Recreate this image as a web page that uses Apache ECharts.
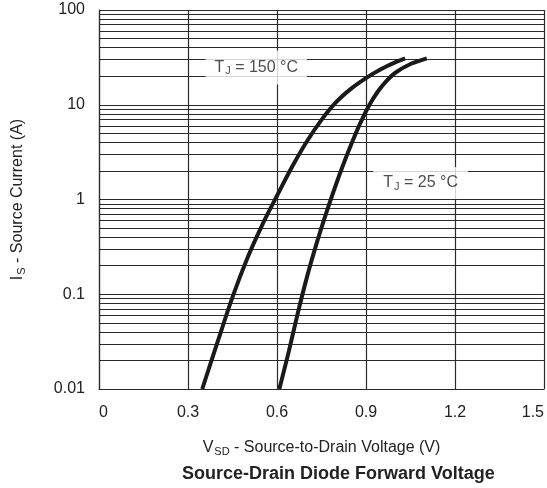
<!DOCTYPE html>
<html>
<head>
<meta charset="utf-8">
<script src="https://cdn.jsdelivr.net/npm/echarts@6/dist/echarts.min.js"></script>
<style>html,body{margin:0;padding:0;background:#fff}#c{width:547px;height:488px}</style>
</head>
<body>
<div id="c"></div>
<script>
// Source-to-drain voltage (V) and source current (A)
const vsd150 = [0.348, 0.40, 0.45, 0.50, 0.55, 0.60, 0.65, 0.70, 0.75, 0.80, 0.85, 0.90, 0.95, 1.00, 1.032];
const is150  = [0.01, 0.0316, 0.0933, 0.240, 0.537, 1.096, 2.19, 4.07, 6.92, 10.7, 14.8, 19.1, 23.7, 28.2, 30.9];
const vsd25  = [0.608, 0.64, 0.67, 0.70, 0.73, 0.76, 0.79, 0.82, 0.85, 0.88, 0.91, 0.94, 0.97, 1.00, 1.05, 1.105];
const is25   = [0.01, 0.0251, 0.063, 0.148, 0.316, 0.631, 1.20, 2.19, 3.80, 6.31, 9.77, 13.8, 18.0, 21.9, 26.9, 30.9];
const xTicks = [0, 0.3, 0.6, 0.9, 1.2, 1.5];
const yTicks = [0.01, 0.1, 1, 10, 100];
const yMinorGrid = [0.02,0.03,0.04,0.05,0.06,0.07,0.08,0.09,
                    0.2,0.3,0.4,0.5,0.6,0.7,0.8,0.9,
                    2,3,4,5,6,7,8,9,
                    20,30,40,50,60,70,80,90];
const label150 = {text: 'T{s|J} = 150 °C', v: 0.530, i: 24.7};
const label25  = {text: 'T{s|J} = 25 °C',  v: 1.084, i: 1.49};

const FONT = '"Liberation Sans", Arial, Helvetica, sans-serif';
const INK = '#222';
const GRID = '#2a2a2a';

const chart = echarts.init(document.getElementById('c'), null, {renderer: 'canvas'});
const pairs = (xs, ys) => xs.map((x, k) => [x, ys[k]]);
const richSub = {s: {fontSize: 11, fontFamily: FONT, color: INK, padding: [7, 0, 0, 1]}};
const boxLabel = (txt, pad) => ({
  show: true, position: 'inside', formatter: txt, padding: pad,
  backgroundColor: '#fff', fontFamily: FONT, fontSize: 16, color: INK, rich: richSub
});

chart.setOption({
  animation: false,
  backgroundColor: '#fff',
  title: {
    text: 'Source-Drain Diode Forward Voltage',
    left: 177, top: 460,
    textStyle: {fontFamily: FONT, fontSize: 18, fontWeight: 'bold', color: INK}
  },
  grid: {left: 99, right: 1, top: 10, bottom: 99, containLabel: false},
  xAxis: {
    type: 'value', min: xTicks[0], max: xTicks[xTicks.length - 1], interval: 0.3,
    name: 'V{s|SD} - Source-to-Drain Voltage (V)',
    nameLocation: 'middle', nameGap: 50,
    nameTextStyle: {fontFamily: FONT, fontSize: 16, color: INK, rich: richSub},
    axisLine: {show: true, lineStyle: {color: GRID, width: 1.2}},
    axisTick: {show: false},
    axisLabel: {
      fontFamily: FONT, fontSize: 16, color: INK, margin: 16,
      alignMinLabel: 'left', alignMaxLabel: 'right',
      formatter: v => String(Math.round(v * 10) / 10)
    },
    splitLine: {show: true, lineStyle: {color: GRID, width: 1.2}}
  },
  yAxis: {
    type: 'log', logBase: 10, min: yTicks[0], max: yTicks[yTicks.length - 1],
    name: 'I{s|S} - Source Current (A)',
    nameLocation: 'middle', nameGap: 72, nameRotate: 90,
    nameTextStyle: {fontFamily: FONT, fontSize: 16, color: INK, rich: richSub},
    axisLine: {show: true, lineStyle: {color: GRID, width: 1.2}},
    axisTick: {show: false},
    axisLabel: {
      fontFamily: FONT, fontSize: 16, color: INK, margin: 14,
      formatter: v => { const r = yTicks.find(t => Math.abs(Math.log10(t) - Math.log10(v)) < 1e-6); return r === undefined ? '' : String(r); }
    },
    splitLine: {show: true, lineStyle: {color: GRID, width: 1.2}}
  },
  series: [
    {
      name: 'grid', type: 'line', data: [], silent: true, z: 1,
      markLine: {
        silent: true, symbol: ['none', 'none'], animation: false,
        label: {show: false},
        lineStyle: {color: GRID, width: 1.2, type: 'solid'},
        data: yMinorGrid.map(v => ({yAxis: v}))
      }
    },
    {
      name: 'TJ = 150 °C', type: 'line', data: pairs(vsd150, is150),
      smooth: 0.3, showSymbol: false, z: 5,
      lineStyle: {color: '#1a1a1a', width: 4}
    },
    {
      name: 'TJ = 25 °C', type: 'line', data: pairs(vsd25, is25),
      smooth: 0.3, showSymbol: false, z: 5,
      lineStyle: {color: '#1a1a1a', width: 4}
    },
    {
      name: 'labels', type: 'scatter', symbolSize: 0, z: 10, silent: true,
      data: [
        {value: [label150.v, label150.i], label: boxLabel(label150.text, [8, 9, 8, 9])},
        {value: [label25.v, label25.i], label: boxLabel(label25.text, [7, 10, 7, 10])}
      ]
    }
  ]
});
</script>
</body>
</html>
